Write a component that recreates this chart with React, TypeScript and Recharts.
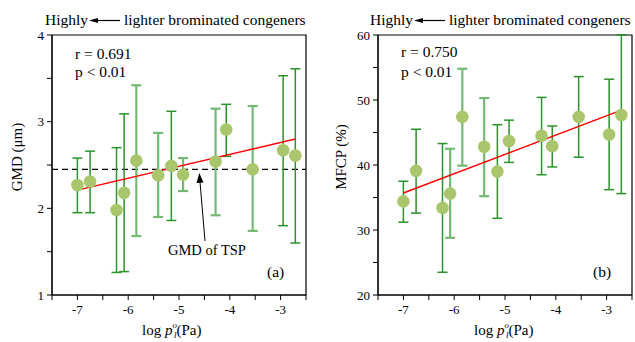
import React from "react"
import {
    ComposedChart,
    Scatter,
    ErrorBar,
    XAxis,
    YAxis,
    ReferenceLine,
    ReferenceArea,
} from "recharts"

// log p°L (Pa) of the congeners, shared by both panels
const logP = [-7, -6.75, -6.23, -6.08, -5.84, -5.41, -5.15, -4.92, -4.28, -4.07, -3.55, -2.95, -2.71]

// panel (a): GMD (µm)
const gmd = [2.27, 2.31, 1.98, 2.18, 2.55, 2.38, 2.49, 2.39, 2.54, 2.91, 2.45, 2.67, 2.61]
const gmdLow = [1.95, 1.95, 1.26, 1.27, 1.68, 1.9, 1.86, 2.2, 1.92, 2.6, 1.74, 1.8, 1.6]
const gmdHigh = [2.58, 2.66, 2.7, 3.09, 3.42, 2.87, 3.12, 2.58, 3.15, 3.2, 3.18, 3.53, 3.61]
const gmdFit = [[-7, 2.21], [-2.71, 2.8]]
const gmdTsp = 2.45

// panel (b): MFCP (%)
const mfcp = [34.4, 39.1, 33.4, 35.6, 47.4, 42.8, 39.0, 43.7, 44.5, 42.9, 47.4, 44.7, 47.7]
const mfcpLow = [31.2, 32.6, 23.5, 28.8, 39.9, 35.2, 31.8, 40.4, 38.5, 39.7, 41.2, 36.2, 35.6]
const mfcpHigh = [37.5, 45.5, 43.3, 42.5, 54.8, 50.3, 46.2, 46.9, 50.4, 46.0, 53.6, 53.2, 60]
const mfcpFit = [[-7, 35.7], [-2.72, 48.4]]

const xTicks = [-7.5, -7, -6.5, -6, -5.5, -5, -4.5, -4, -3.5, -3, -2.5]
const gmdTicks = [1, 1.5, 2, 2.5, 3, 3.5, 4]
const mfcpTicks = [20, 25, 30, 35, 40, 45, 50, 55, 60]

// which error bars are drawn in the paler green
const paleA = [4, 5, 7, 8, 10]
const paleB = [3, 4, 5]

const FONT = "'Liberation Serif', 'Times New Roman', serif"
const DARK_BAR = "#2a932a"
const PALE_BAR = "#74b874"
const DOT = "#a9c66d"

function points(ys: number[], lows: number[], highs: number[]) {
    return logP.map((x, i) => ({ x, y: ys[i], err: [ys[i] - lows[i], highs[i] - ys[i]] }))
}

// serif tick labels, only on whole steps
function makeTick(axis: "x" | "y", step: number) {
    return (props: any) => {
        const v = props.payload.value
        if (Math.abs(v % step) > 1e-9) return <g />
        return (
            <text
                x={props.x}
                y={props.y}
                dy={axis === "x" ? "0.71em" : "0.35em"}
                textAnchor={axis === "x" ? "middle" : "end"}
                fontFamily={FONT}
                fontSize={13}
                fill="#000"
            >
                {v}
            </text>
        )
    }
}

interface PanelProps {
    ys: number[]
    lows: number[]
    highs: number[]
    pale: number[]
    yTicks: number[]
    majorStep: number
    fit: number[][]
    refY?: number
}

function Panel({ ys, lows, highs, pale, yTicks, majorStep, fit, refY }: PanelProps) {
    const all = points(ys, lows, highs)
    const dark = all.filter((_, i) => !pale.includes(i))
    const light = all.filter((_, i) => pale.includes(i))
    const yDomain = [yTicks[0], yTicks[yTicks.length - 1]]
    const hidden = () => <g />

    return (
        <ComposedChart width={309} height={342} margin={{ top: 35, right: 3, bottom: 17, left: 12 }}>
            <XAxis
                dataKey="x"
                type="number"
                domain={[-7.5, -2.5]}
                ticks={xTicks}
                interval={0}
                tick={makeTick("x", 1)}
                tickSize={5}
                tickMargin={5}
                stroke="#000"
                height={30}
                allowDataOverflow
            />
            <YAxis
                dataKey="y"
                type="number"
                domain={yDomain}
                ticks={yTicks}
                interval={0}
                tick={makeTick("y", majorStep)}
                tickSize={5}
                tickMargin={3}
                stroke="#000"
                width={40}
                allowDataOverflow
            />
            <ReferenceArea
                x1={-7.5}
                x2={-2.5}
                y1={yDomain[0]}
                y2={yDomain[1]}
                fill="none"
                stroke="#000"
                strokeWidth={1.2}
            />
            {refY !== undefined && (
                <ReferenceLine y={refY} stroke="#000" strokeWidth={1.3} strokeDasharray="6 4" />
            )}
            <Scatter data={dark} shape={hidden} isAnimationActive={false}>
                <ErrorBar dataKey="err" direction="y" width={5} stroke={DARK_BAR} strokeWidth={1.5} isAnimationActive={false} />
            </Scatter>
            <Scatter data={light} shape={hidden} isAnimationActive={false}>
                <ErrorBar dataKey="err" direction="y" width={5} stroke={PALE_BAR} strokeWidth={2.2} isAnimationActive={false} />
            </Scatter>
            <ReferenceLine
                segment={[{ x: fit[0][0], y: fit[0][1] }, { x: fit[1][0], y: fit[1][1] }]}
                stroke="#ff0000"
                strokeWidth={1.5}
            />
            <Scatter
                data={all}
                isAnimationActive={false}
                shape={(p: any) => <circle cx={p.cx} cy={p.cy} r={6.3} fill={DOT} />}
            />
        </ComposedChart>
    )
}

function XLabel({ x }: { x: number }) {
    return (
        <text x={x} y={335} fontSize={15} fontFamily={FONT}>
            log <tspan fontStyle="italic">p</tspan>
            <tspan fontStyle="italic" fontSize={9} dy={-7}>o</tspan>
            <tspan fontStyle="italic" fontSize={9} dx={-3} dy={10}>l</tspan>
            <tspan dy={-3}>(Pa)</tspan>
        </text>
    )
}

function Heading({ x }: { x: number }) {
    return (
        <g fontFamily={FONT} fontSize={15.5}>
            <text x={x} y={25}>Highly</text>
            <line x1={x + 75} y1={20.5} x2={x + 50} y2={20.5} stroke="#000" strokeWidth={1.2} />
            <polygon points={`${x + 44},20.5 ${x + 53},18 ${x + 53},23`} fill="#000" />
            <text x={x + 79} y={25}>lighter brominated congeners</text>
        </g>
    )
}

export default function App() {
    return (
        <div
            style={{
                position: "absolute",
                left: 0,
                top: 0,
                width: 635,
                height: 342,
                background: "#fff",
                fontFamily: FONT,
            }}
        >
            <div style={{ position: "absolute", left: 0, top: 0 }}>
                <Panel ys={gmd} lows={gmdLow} highs={gmdHigh} pale={paleA} yTicks={gmdTicks} majorStep={1} fit={gmdFit} refY={gmdTsp} />
            </div>
            <div style={{ position: "absolute", left: 326, top: 0 }}>
                <Panel ys={mfcp} lows={mfcpLow} highs={mfcpHigh} pale={paleB} yTicks={mfcpTicks} majorStep={10} fit={mfcpFit} />
            </div>
            <svg width={635} height={342} style={{ position: "absolute", left: 0, top: 0, pointerEvents: "none" }}>
                <Heading x={45} />
                <Heading x={370} />
                <g fontFamily={FONT} fontSize={15.5}>
                    <text x={75} y={59}>r = 0.691</text>
                    <text x={75} y={77}>p &lt; 0.01</text>
                    <text x={401} y={57}>r = 0.750</text>
                    <text x={401} y={77}>p &lt; 0.01</text>
                    <text x={267} y={277}>(a)</text>
                    <text x={593} y={277}>(b)</text>
                    <text transform="translate(22,157) rotate(-90)" textAnchor="middle" fontSize={15}>GMD (μm)</text>
                    <text transform="translate(346,157) rotate(-90)" textAnchor="middle" fontSize={15}>MFCP (%)</text>
                </g>
                <text x={168} y={255} fontFamily={FONT} fontSize={14.5}>GMD of TSP</text>
                <line x1={205} y1={241} x2={200} y2={182} stroke="#000" strokeWidth={1} />
                <polygon points="199.3,173 196.5,183 203.5,182.5" fill="#000" />
                <XLabel x={142} />
                <XLabel x={474} />
            </svg>
        </div>
    )
}
